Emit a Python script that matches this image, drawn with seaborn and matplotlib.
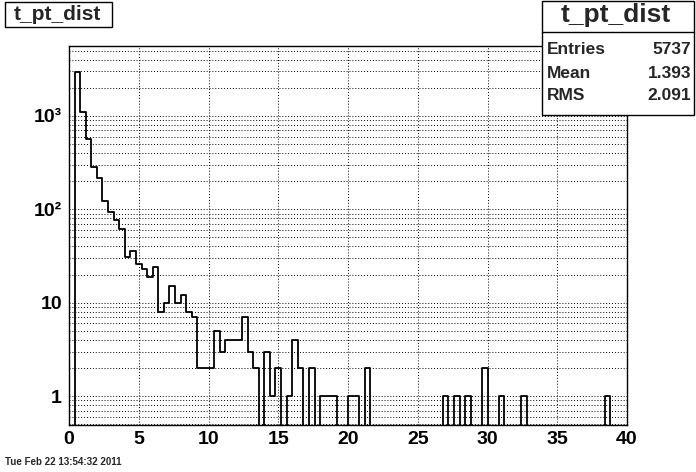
import numpy as np
import pandas as pd
import matplotlib
matplotlib.use('Agg')
import matplotlib.pyplot as plt
import seaborn as sns
from matplotlib.ticker import MultipleLocator, LogLocator, FuncFormatter
from matplotlib.patches import Rectangle

# 100 bins of width 0.4 between 0 and 40
bin_edges = np.linspace(0, 40, 101)
counts = [
    0, 2950, 1110, 570, 285, 218, 124, 94, 77, 61,   # 0 - 4
    31, 36, 26, 23, 19, 24, 8, 10, 15, 10,           # 4 - 8
    12, 8, 7, 2, 2, 2, 5, 3, 4, 4,                   # 8 - 12
    4, 7, 3, 2, 0, 3, 1, 2, 0, 1,                    # 12 - 16
    4, 2, 0, 2, 0, 1, 1, 1, 0, 0,                    # 16 - 20
    1, 1, 0, 2, 0, 0, 0, 0, 0, 0,                    # 20 - 24
    0, 0, 0, 0, 0, 0, 0, 1, 0, 1,                    # 24 - 28
    0, 1, 0, 0, 2, 0, 0, 1, 0, 0,                    # 28 - 32
    0, 1, 0, 0, 0, 0, 0, 0, 0, 0,                    # 32 - 36
    0, 0, 0, 0, 0, 0, 1, 0, 0, 0,                    # 36 - 40
]
bin_centers = (bin_edges[:-1] + bin_edges[1:]) / 2

hist_name = "t_pt_dist"
stat_labels = ["Entries", "Mean", "RMS"]
stat_values = ["5737", "1.393", "2.091"]
y_labels = {1: "1", 10: "10", 100: "10²", 1000: "10³"}
date_text = "Tue Feb 22 13:54:32 2011"

df = pd.DataFrame({'pt': bin_centers, 'n': counts})

sns.set_style("white")
plt.rcParams['font.family'] = ['Liberation Sans', 'DejaVu Sans']
plt.rcParams['font.weight'] = 'bold'

W, H = 696, 472
fig = plt.figure(figsize=(W / 100, H / 100), dpi=100)
ax = fig.add_axes([69 / W, (H - 425) / H, (627 - 69) / W, (425 - 46) / H])

sns.histplot(data=df, x='pt', weights='n', bins=100, binrange=(0, 40), element='step',
             fill=False, color='black', linewidth=1.3, ax=ax)
ax.set_yscale('log')
ax.set_xlim(0, 40)
ax.set_ylim(0.49, 5600)
ax.set_xlabel('')
ax.set_ylabel('')

ax.xaxis.set_major_locator(MultipleLocator(5))
ax.xaxis.set_minor_locator(MultipleLocator(1))
ax.yaxis.set_major_locator(LogLocator(base=10, numticks=10))
ax.yaxis.set_minor_locator(LogLocator(base=10, subs=np.arange(2, 10), numticks=20))
ax.yaxis.set_major_formatter(FuncFormatter(lambda v, p: y_labels.get(int(round(v)), '')))
ax.yaxis.set_minor_formatter(FuncFormatter(lambda v, p: ''))

ax.grid(True, which='major', axis='x', ls=(0, (1, 2)), color='black', lw=0.7)
ax.grid(True, which='both', axis='y', ls=(0, (1, 2)), color='black', lw=0.7)
ax.tick_params(which='major', direction='in', length=10, width=1, labelsize=14,
               colors='black', top=False, right=False)
ax.tick_params(which='minor', direction='in', length=5, width=1, top=False, right=False)
ax.tick_params(axis='y', which='major', length=16, pad=5)
ax.tick_params(axis='y', which='minor', length=8)
ax.tick_params(axis='x', pad=4)
for s in ax.spines.values():
    s.set_color('black')
    s.set_linewidth(1)

# title box (top left)
fig.patches.append(Rectangle((5 / W, 1 - 27 / H), 107 / W, 25 / H, transform=fig.transFigure,
                             fill=True, facecolor='white', edgecolor='black', lw=1))
fig.text(57 / W, 1 - 14 / H, hist_name, ha='center', va='center', fontsize=15, weight='bold')

# stats box (top right)
fig.patches.append(Rectangle((542 / W, 1 - 115 / H), 152 / W, 114 / H, transform=fig.transFigure,
                             fill=True, facecolor='white', edgecolor='black', lw=1, zorder=5))
fig.lines.append(plt.Line2D([542 / W, 694 / W], [1 - 32 / H, 1 - 32 / H],
                            transform=fig.transFigure, color='black', lw=1, zorder=6))
fig.text(616 / W, 1 - 15 / H, hist_name, ha='center', va='center', fontsize=19, weight='bold', zorder=7)
for i, (lab, val) in enumerate(zip(stat_labels, stat_values)):
    y = 1 - (50 + i * 23) / H
    fig.text(547 / W, y, lab, ha='left', va='center', fontsize=12.5, weight='bold', zorder=7)
    fig.text(691 / W, y, val, ha='right', va='center', fontsize=12.5, weight='bold', zorder=7)

fig.text(5 / W, 1 - 462 / H, date_text, ha='left', va='center', fontsize=7, weight='bold')

fig.savefig('out.png', dpi=100, facecolor='white')
